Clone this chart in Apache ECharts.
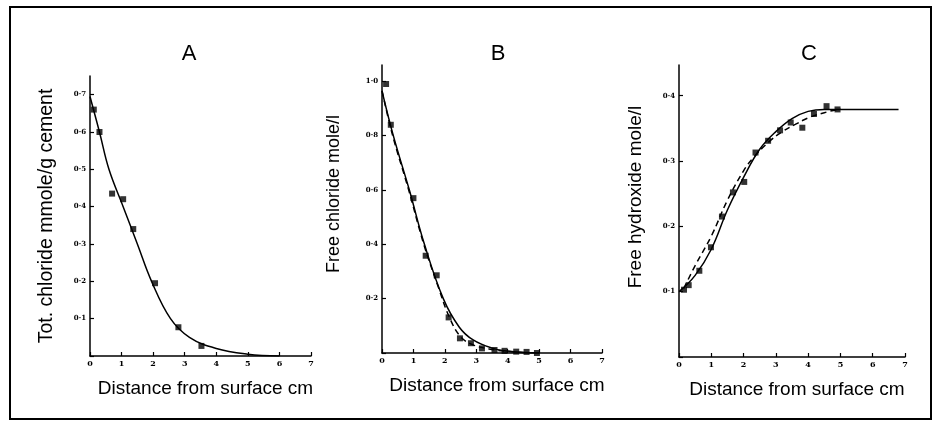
<!DOCTYPE html>
<html>
<head>
<meta charset="utf-8">
<script src="https://cdn.jsdelivr.net/npm/echarts@6/dist/echarts.min.js"></script>
<style>
  html, body { margin: 0; padding: 0; background: #fff; }
  #chart { width: 935px; height: 422px; }
</style>
</head>
<body>
<div id="chart"></div>
<script>
// A: total chloride
var aPointX = [0.12, 0.3, 0.7, 1.05, 1.37, 2.06, 2.8, 3.53];
var aPointY = [0.66, 0.60, 0.435, 0.42, 0.34, 0.195, 0.077, 0.027];
var aCurveX = [0, 0.3, 0.6, 1.05, 1.5, 1.95, 2.55, 3.15, 4, 5, 6];
var aCurveY = [0.695, 0.6, 0.5, 0.4, 0.3, 0.2, 0.1, 0.05, 0.02, 0.005, 0];

// B: free chloride
var bPointX = [0.13, 0.28, 1.0, 1.39, 1.74, 2.12, 2.48, 2.83, 3.18, 3.58, 3.9, 4.27, 4.6, 4.93];
var bPointY = [0.99, 0.84, 0.57, 0.358, 0.286, 0.131, 0.054, 0.036, 0.017, 0.011, 0.008, 0.005, 0.004, 0.0];
var bSolidX = [0, 0.36, 0.87, 1.35, 1.95, 2.46, 2.9, 3.5, 4, 4.5, 5];
var bSolidY = [0.965, 0.8, 0.6, 0.4, 0.2, 0.095, 0.048, 0.018, 0.007, 0.002, 0];
var bDashX = [0, 0.34, 0.85, 1.33, 1.8, 2.15, 2.5, 2.9, 3.4, 4, 4.5, 5];
var bDashY = [0.965, 0.8, 0.6, 0.4, 0.24, 0.13, 0.06, 0.03, 0.015, 0.006, 0.002, 0];

// C: free hydroxide
var cPointX = [0.155, 0.3, 0.63, 0.99, 1.33, 1.67, 2.02, 2.37, 2.76, 3.13, 3.46, 3.82, 4.18, 4.57, 4.91];
var cPointY = [0.103, 0.110, 0.132, 0.168, 0.215, 0.252, 0.268, 0.313, 0.331, 0.347, 0.359, 0.351, 0.372, 0.384, 0.379];
var cSolidX = [0, 0.5, 1, 1.5, 2, 2.5, 3, 3.5, 4, 4.5, 5, 6, 6.8];
var cSolidY = [0.1, 0.125, 0.165, 0.225, 0.275, 0.318, 0.345, 0.365, 0.376, 0.379, 0.379, 0.379, 0.379];
var cDashX = [0.15, 0.5, 1, 1.5, 2, 2.3, 2.8, 3.2, 3.6, 4, 4.5, 5];
var cDashY = [0.105, 0.14, 0.185, 0.24, 0.285, 0.305, 0.33, 0.345, 0.356, 0.366, 0.374, 0.38];

var xTicks = [0, 1, 2, 3, 4, 5, 6, 7];

function pairs(xs, ys) {
    return xs.map(function (x, i) { return [x, ys[i]]; });
}

var font = "'Liberation Sans', Arial, sans-serif";

function xAx(idx) {
    return {
        type: 'value', gridIndex: idx, min: xTicks[0], max: xTicks[xTicks.length - 1], interval: 1,
        name: 'Distance from surface cm', nameLocation: 'middle', nameGap: 23,
        nameTextStyle: { fontFamily: font, fontSize: 19, color: '#000', padding: [0, 0, 0, 10] },
        axisLine: { lineStyle: { color: '#000', width: 1.5 } },
        axisTick: { inside: true, length: 4, lineStyle: { color: '#000', width: 1.2 } },
        axisLabel: { color: '#000', fontSize: 8, fontWeight: 'bold', fontFamily: 'DejaVu Serif', margin: 4 },
        splitLine: { show: false }
    };
}

function yAx(idx, max, step, name, gap, shift, size) {
    return {
        type: 'value', gridIndex: idx, min: 0, max: max, interval: step,
        name: name, nameLocation: 'middle', nameGap: gap,
        nameTextStyle: { fontFamily: font, fontSize: size, color: '#000', padding: [0, 0, 0, shift] },
        axisLine: { show: true, lineStyle: { color: '#000', width: 1.5 } },
        axisTick: { show: true, inside: true, length: 4, lineStyle: { color: '#000', width: 1.2 } },
        axisLabel: {
            color: '#000', fontSize: 7, fontWeight: 'bold', fontFamily: 'DejaVu Serif', margin: 4,
            showMaxLabel: false,
            formatter: function (v) { return v === 0 ? '' : v.toFixed(1).replace('.', '·'); }
        },
        splitLine: { show: false }
    };
}

function dots(idx, xs, ys) {
    return {
        type: 'scatter', xAxisIndex: idx, yAxisIndex: idx, data: pairs(xs, ys),
        symbol: 'rect', symbolSize: 6, itemStyle: { color: '#000' }, z: 3
    };
}

function curve(idx, xs, ys, dashed) {
    return {
        type: 'line', xAxisIndex: idx, yAxisIndex: idx, data: pairs(xs, ys),
        smooth: 0.4, showSymbol: false,
        lineStyle: { color: '#000', width: 1.5, type: dashed ? [6, 4] : 'solid' }
    };
}

var myChart = echarts.init(document.getElementById('chart'));

var option = {
    backgroundColor: '#fff',
    animation: false,
    title: [
        { text: 'A', left: 184, top: 38, textAlign: 'center', textStyle: { fontFamily: font, fontSize: 22, fontWeight: 'normal', color: '#000' } },
        { text: 'B', left: 493, top: 38, textAlign: 'center', textStyle: { fontFamily: font, fontSize: 22, fontWeight: 'normal', color: '#000' } },
        { text: 'C', left: 804, top: 38, textAlign: 'center', textStyle: { fontFamily: font, fontSize: 22, fontWeight: 'normal', color: '#000' } }
    ],
    graphic: [{
        type: 'rect', shape: { x: 10, y: 7, width: 921, height: 412 },
        style: { fill: null, stroke: '#000', lineWidth: 2 }, silent: true
    }],
    grid: [
        { left: 90, top: 76, width: 221, height: 280 },
        { left: 382, top: 65, width: 220, height: 288 },
        { left: 679, top: 65, width: 226, height: 292 }
    ],
    xAxis: [xAx(0), xAx(1), xAx(2)],
    yAxis: [
        yAx(0, 0.75, 0.1, 'Tot. chloride mmole/g cement', 33, 0, 19.5),
        yAx(1, 1.06, 0.2, 'Free chloride mole/l', 39, 30, 18),
        yAx(2, 0.447, 0.1, 'Free hydroxide mole/l', 34, 28, 19)
    ],
    series: [
        curve(0, aCurveX, aCurveY, false),
        dots(0, aPointX, aPointY),
        curve(1, bSolidX, bSolidY, false),
        curve(1, bDashX, bDashY, true),
        dots(1, bPointX, bPointY),
        curve(2, cSolidX, cSolidY, false),
        curve(2, cDashX, cDashY, true),
        dots(2, cPointX, cPointY)
    ]
};

myChart.setOption(option);
window.addEventListener('resize', function () {
    myChart.resize();
});
</script>
</body>
</html>
